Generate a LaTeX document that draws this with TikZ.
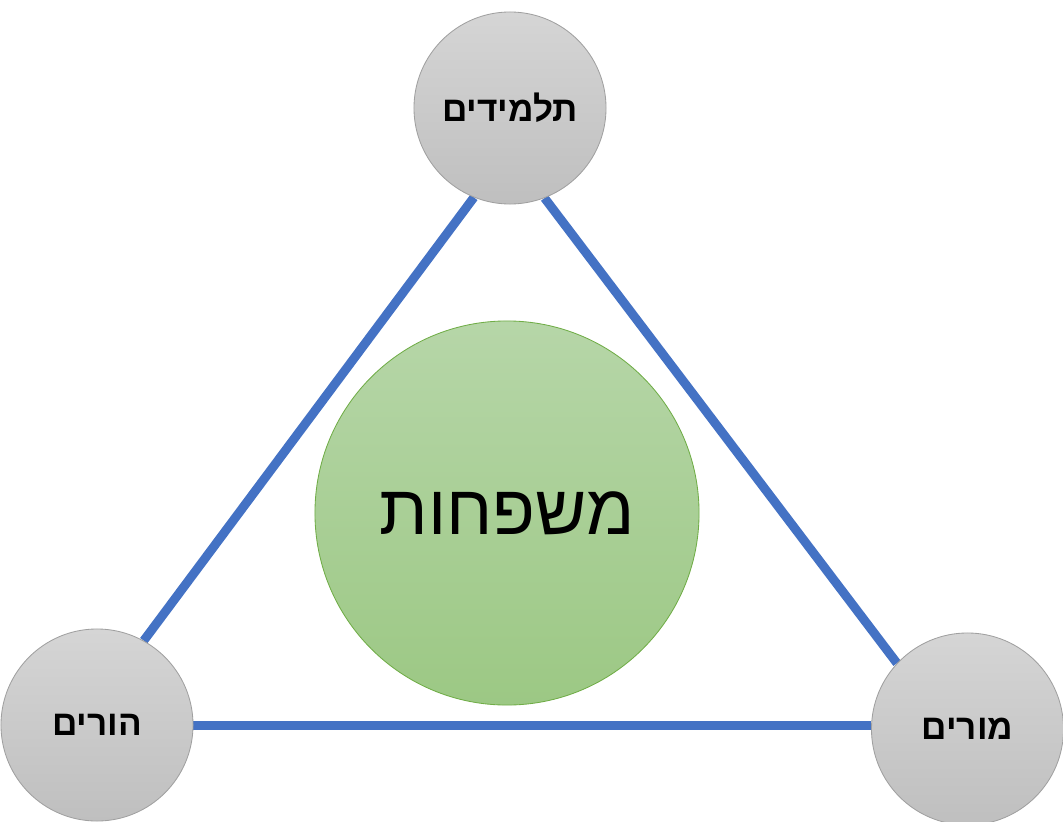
\documentclass[tikz,border=0pt]{standalone}
\usepackage{fontspec}
\setmainfont{Liberation Sans}
\newfontfamily\hebfont[Script=Hebrew]{Liberation Sans}
\TeXXeTstate=1
\usepackage{tikz}
\usetikzlibrary{positioning}
\pgfdeclarelayer{background}
\pgfsetlayers{background,main}
\definecolor{linkblue}{HTML}{4472C4}
\definecolor{grayTop}{HTML}{D5D5D5}
\definecolor{grayBot}{HTML}{BFBFBF}
\definecolor{grayEdge}{HTML}{A0A0A0}
\definecolor{greenTop}{HTML}{B6D6A8}
\definecolor{greenBot}{HTML}{9CC884}
\definecolor{greenEdge}{HTML}{70AD47}
\tikzset{
	party/.style={circle, minimum size=4.8cm, inner sep=0pt, draw=grayEdge, line width=.6pt,
		top color=grayTop, bottom color=grayBot, font=\hebfont\bfseries\fontsize{25}{30}\selectfont},
	core/.style={circle, minimum size=9.6cm, inner sep=0pt, draw=greenEdge, line width=.6pt,
		top color=greenTop, bottom color=greenBot, font=\hebfont\fontsize{50}{60}\selectfont},
	link/.style={linkblue, line width=6.4pt}
}

\begin{document}
\begin{tikzpicture}[x=0.025cm, y=-0.025cm]
\useasboundingbox (0,0) rectangle (1063,821);
% the three partners and the family in the middle
\node [party] (tal) at (510,108) {\beginR תלמידים\endR};
\node [party] (hor) at (97,725) {\beginR הורים\endR};
\node [party] (mor) at (967.5,729) {\beginR מורים\endR};
\node [core] (mis) at (507,513) {\beginR משפחות\endR};
% links, behind the circles
\begin{pgfonlayer}{background}
\draw [link] (tal.248.5) -- (hor.61.6);
\draw [link] (tal.291.5) -- (mor.137.8);
\draw [link] (hor.east) -- (hor.east -| mor.west);
\end{pgfonlayer}
\end{tikzpicture}
\end{document}
